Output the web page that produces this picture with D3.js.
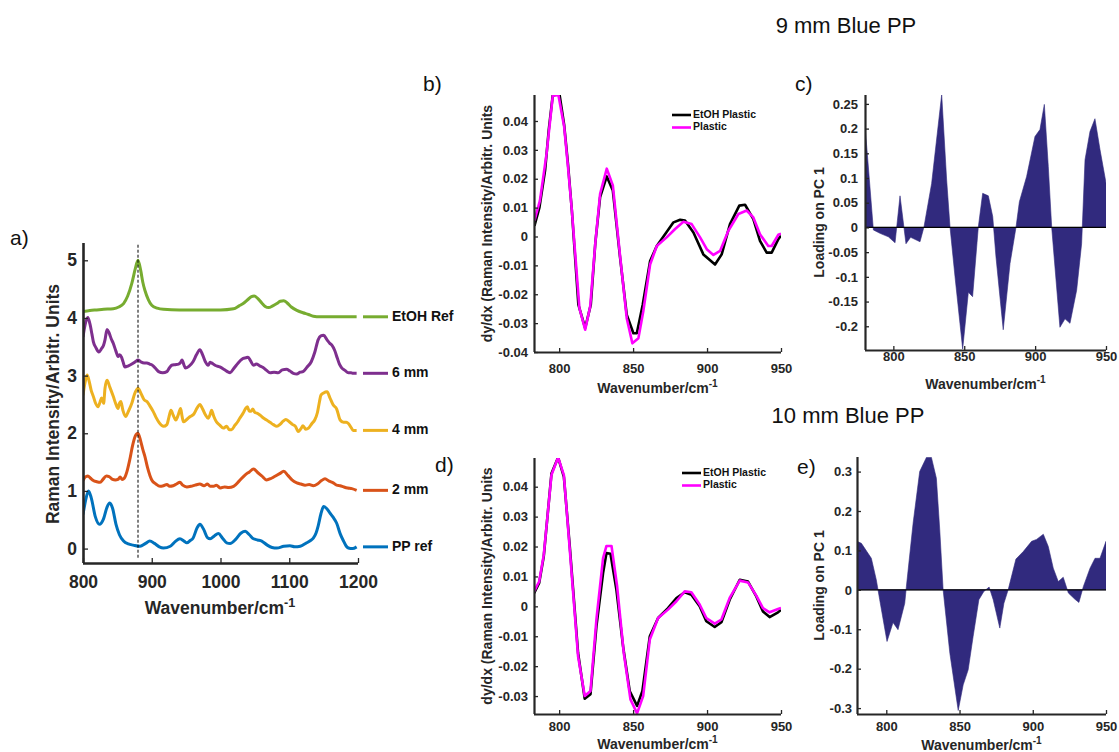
<!DOCTYPE html>
<html>
<head>
<meta charset="utf-8">
<script src="https://cdn.jsdelivr.net/npm/d3@7"></script>
<style>
  body { margin: 0; background: #fff; }
  svg { display: block; }
  text { font-family: "Liberation Sans", Arial, sans-serif; }
</style>
</head>
<body>
<svg id="fig" width="1119" height="752"></svg>
<script>
// ---------- Panel a: stacked Raman spectra, [wavenumber, intensity] ----------
const ppRef = [[800,0.59],[804,0.85],[808,1.00],[812,0.88],[818,0.55],[824,0.42],[830,0.52],[835,0.72],[839,0.79],[843,0.70],[848,0.42],[853,0.24],[859,0.13],[866,0.08],[873,0.06],[883,0.04],[891,0.09],[897,0.13],[904,0.09],[911,0.03],[917,0.01],[927,0.04],[934,0.12],[941,0.17],[947,0.13],[951,0.10],[956,0.14],[960,0.18],[966,0.36],[970,0.42],[976,0.32],[981,0.19],[985,0.17],[991,0.22],[997,0.26],[1003,0.18],[1009,0.10],[1014,0.09],[1022,0.16],[1030,0.27],[1036,0.30],[1042,0.24],[1048,0.17],[1054,0.15],[1060,0.13],[1068,0.06],[1075,0.02],[1082,0.01],[1092,0.04],[1101,0.05],[1108,0.03],[1116,0.04],[1124,0.09],[1131,0.14],[1135,0.18],[1139,0.27],[1142,0.39],[1146,0.60],[1150,0.73],[1154,0.70],[1159,0.62],[1164,0.54],[1169,0.44],[1174,0.26],[1179,0.13],[1183,0.04],[1186,0.01],[1192,0.00],[1198,0.03]];

const mm2 = [[800,1.18],[803,1.24],[807,1.26],[811,1.22],[815,1.18],[820,1.16],[825,1.15],[829,1.20],[834,1.26],[838,1.25],[843,1.20],[847,1.19],[851,1.20],[854,1.24],[857,1.20],[860,1.22],[864,1.34],[868,1.54],[872,1.78],[876,1.95],[880,2.00],[884,1.86],[887,1.72],[890,1.60],[894,1.40],[900,1.19],[906,1.12],[912,1.08],[917,1.09],[922,1.11],[926,1.08],[931,1.09],[936,1.12],[941,1.15],[945,1.10],[951,1.07],[957,1.08],[963,1.10],[970,1.12],[976,1.09],[981,1.12],[985,1.08],[990,1.08],[994,1.10],[1000,1.05],[1006,1.07],[1012,1.06],[1019,1.08],[1027,1.17],[1036,1.28],[1042,1.33],[1048,1.38],[1054,1.32],[1060,1.26],[1067,1.19],[1074,1.22],[1080,1.26],[1086,1.30],[1092,1.34],[1098,1.27],[1104,1.19],[1111,1.14],[1117,1.12],[1123,1.10],[1129,1.11],[1135,1.09],[1141,1.12],[1147,1.18],[1152,1.21],[1158,1.17],[1164,1.14],[1169,1.10],[1174,1.09],[1179,1.07],[1185,1.05],[1191,1.04],[1198,1.01]];

const mm4 = [[800,2.66],[803,2.88],[806,3.01],[809,2.90],[812,2.74],[815,2.64],[818,2.53],[822,2.46],[825,2.55],[827,2.61],[830,2.52],[832,2.78],[835,2.92],[839,2.80],[844,2.64],[848,2.50],[851,2.43],[853,2.52],[855,2.55],[858,2.40],[862,2.29],[866,2.38],[871,2.52],[875,2.68],[880,2.78],[884,2.70],[889,2.58],[893,2.55],[897,2.48],[902,2.38],[906,2.28],[911,2.18],[917,2.12],[922,2.15],[925,2.28],[928,2.40],[931,2.32],[935,2.23],[938,2.30],[942,2.43],[944,2.30],[946,2.20],[951,2.24],[956,2.29],[961,2.33],[966,2.44],[970,2.50],[974,2.42],[978,2.32],[982,2.26],[985,2.33],[987,2.40],[990,2.30],[994,2.20],[999,2.14],[1004,2.09],[1009,2.12],[1013,2.06],[1016,2.06],[1021,2.14],[1025,2.20],[1028,2.26],[1033,2.35],[1036,2.42],[1039,2.46],[1042,2.38],[1044,2.38],[1047,2.42],[1050,2.36],[1053,2.35],[1058,2.31],[1063,2.26],[1067,2.23],[1072,2.19],[1077,2.15],[1082,2.12],[1087,2.16],[1091,2.21],[1095,2.24],[1100,2.20],[1105,2.15],[1109,2.12],[1113,2.03],[1117,2.08],[1120,2.13],[1124,2.07],[1128,2.09],[1133,2.17],[1137,2.23],[1141,2.36],[1144,2.55],[1146,2.66],[1150,2.70],[1155,2.72],[1159,2.62],[1164,2.49],[1169,2.42],[1174,2.23],[1179,2.19],[1183,2.19],[1186,2.17],[1190,2.10],[1193,2.05],[1198,2.05]];

const mm6 = [[800,3.67],[803,3.88],[807,4.01],[810,3.90],[813,3.72],[815,3.59],[819,3.48],[823,3.41],[827,3.47],[830,3.53],[832,3.62],[835,3.80],[838,3.74],[841,3.64],[844,3.56],[848,3.42],[851,3.33],[853,3.36],[856,3.32],[858,3.25],[861,3.15],[866,3.17],[871,3.20],[876,3.24],[880,3.27],[884,3.24],[889,3.22],[893,3.22],[897,3.20],[902,3.17],[906,3.12],[910,3.07],[916,3.05],[922,3.07],[926,3.14],[929,3.18],[934,3.19],[939,3.20],[942,3.23],[944,3.27],[947,3.18],[949,3.13],[954,3.16],[960,3.24],[965,3.36],[970,3.45],[974,3.36],[978,3.24],[982,3.18],[985,3.23],[987,3.22],[992,3.18],[999,3.15],[1006,3.10],[1010,3.07],[1014,3.05],[1019,3.12],[1023,3.18],[1028,3.25],[1033,3.30],[1037,3.31],[1040,3.32],[1044,3.25],[1048,3.18],[1052,3.20],[1057,3.17],[1062,3.14],[1067,3.09],[1072,3.05],[1078,3.06],[1084,3.05],[1090,3.10],[1096,3.11],[1101,3.08],[1106,3.04],[1111,3.03],[1116,3.06],[1120,3.07],[1126,3.15],[1132,3.24],[1137,3.40],[1142,3.62],[1146,3.69],[1150,3.70],[1155,3.62],[1159,3.56],[1162,3.53],[1166,3.44],[1170,3.30],[1173,3.20],[1176,3.14],[1181,3.09],[1186,3.05],[1190,3.05],[1193,3.04],[1198,3.04]];

const etohRef = [[800,4.11],[810,4.13],[820,4.14],[830,4.15],[844,4.16],[852,4.19],[859,4.25],[865,4.38],[871,4.60],[876,4.85],[880,5.00],[884,4.82],[887,4.62],[890,4.48],[895,4.32],[900,4.22],[908,4.17],[917,4.15],[940,4.14],[970,4.14],[1000,4.14],[1019,4.16],[1027,4.21],[1033,4.25],[1040,4.32],[1045,4.37],[1049,4.38],[1054,4.34],[1060,4.26],[1065,4.20],[1070,4.18],[1076,4.21],[1082,4.25],[1087,4.29],[1092,4.30],[1097,4.26],[1103,4.19],[1111,4.13],[1120,4.09],[1128,4.06],[1135,4.03],[1145,4.02],[1160,4.02],[1180,4.02],[1198,4.02]];

// series order, labels and MATLAB default colours (bottom to top)
const spectraNames  = ["PP ref", "2 mm", "4 mm", "6 mm", "EtOH Ref"];
const spectraData   = [ppRef, mm2, mm4, mm6, etohRef];
const spectraColors = ["#0072BD", "#D95319", "#EDB120", "#7E2F8E", "#77AC30"];
const ethanolBand = 880;   // C-C-O stretch marker

const aXTicks = [800, 900, 1000, 1100, 1200];
const aYTicks = [0, 1, 2, 3, 4, 5];

// ---------- Panels b / d: first-derivative spectra ----------
const bEtoh = [[783.3,0.0037],[786.7,0.0101],[790.5,0.0229],[793,0.037],[795.7,0.0490],[800.2,0.0494],[803.4,0.0386],[806,0.025],[808.6,0.0090],[813,-0.0236],[817.6,-0.0317],[821.4,-0.0236],[824.5,-0.002],[827.7,0.0136],[832.2,0.0208],[836.3,0.0159],[841.2,-0.0073],[845.7,-0.0271],[850.2,-0.0335],[852.5,-0.0335],[856.5,-0.0236],[861.5,-0.0085],[866,-0.0033],[871.6,0.0008],[877.3,0.0049],[881.8,0.0058],[885.1,0.0055],[890.8,0.0014],[897.5,-0.0062],[905.4,-0.0097],[909.9,-0.0062],[915.5,0.0043],[921.8,0.0107],[925.7,0.0110],[931.3,0.0060],[935.8,-0.0015],[940.3,-0.0056],[943.7,-0.0056],[948.2,-0.0009],[950,0.0003]];
const bPlastic = [[783.3,0.0055],[787,0.0124],[791.5,0.0287],[795.7,0.0487],[799.5,0.0490],[803.4,0.0380],[806,0.024],[808.6,0.0090],[813.7,-0.0248],[817.6,-0.0323],[821,-0.0242],[824.5,-0.002],[827.7,0.0148],[832.2,0.0235],[836.3,0.0177],[841.2,-0.0067],[845.7,-0.0283],[849.5,-0.0370],[853.6,-0.0352],[856.9,-0.0259],[861.5,-0.0097],[866,-0.0033],[872.7,-0.0003],[878.4,0.0026],[884,0.0051],[889.6,0.0043],[895.3,-0.0003],[899.8,-0.0044],[904.3,-0.0064],[908.8,-0.0050],[914.4,0.0020],[921.2,0.0078],[926.8,0.0090],[931.3,0.0066],[935.8,0.0008],[941.4,-0.0033],[943.7,-0.0033],[948.2,0.0006],[950,0.0010]];

const dEtoh = [[783.1,0.0044],[786.5,0.0078],[789.6,0.0167],[794.8,0.0444],[799.3,0.0498],[803.2,0.0433],[807.2,0.0200],[812.8,-0.0156],[817.3,-0.0309],[821.2,-0.0294],[825.2,-0.0067],[829.7,0.0111],[832,0.0178],[834.7,0.0176],[838.7,0.0056],[843.2,-0.0133],[847.7,-0.0283],[852.7,-0.0333],[856.3,-0.0283],[861.3,-0.0100],[866.9,-0.0039],[873.6,-0.0006],[879.3,0.0028],[884.9,0.0047],[889.4,0.0039],[895,0.0000],[899.5,-0.0050],[905.2,-0.0069],[909.7,-0.0053],[915.3,0.0022],[922.1,0.0089],[927.7,0.0083],[933.3,0.0033],[937.8,-0.0017],[942.3,-0.0036],[948,-0.0020],[950,-0.0012]];
const dPlastic = [[783.1,0.0050],[786.5,0.0083],[789.6,0.0172],[794.8,0.0439],[799.3,0.0498],[803.2,0.0439],[807.2,0.0189],[812.8,-0.0167],[817.3,-0.0300],[821.2,-0.0283],[825.2,-0.0044],[829.7,0.0161],[832,0.0202],[835.4,0.0202],[839.2,0.0067],[843.7,-0.0156],[848.2,-0.0311],[852.7,-0.0358],[856.8,-0.0300],[861.3,-0.0111],[866.9,-0.0039],[873.6,-0.0011],[879.3,0.0017],[884.9,0.0050],[889.4,0.0047],[895,0.0006],[899.5,-0.0039],[905.2,-0.0058],[909.7,-0.0044],[915.3,0.0028],[922.1,0.0086],[927.7,0.0080],[933.3,0.0036],[937.8,-0.0006],[942.3,-0.0020],[948,-0.0009],[950,-0.0005]];

const derivNames  = ["EtOH Plastic", "Plastic"];
const derivColors = ["#000000", "#FF00FF"];

const bdXTicks = [800, 850, 900, 950];
const bYTicks = [-0.04, -0.03, -0.02, -0.01, 0, 0.01, 0.02, 0.03, 0.04];
const dYTicks = [-0.03, -0.02, -0.01, 0, 0.01, 0.02, 0.03, 0.04];

// ---------- Panels c / e: PC1 loadings ----------
const cLoad = [[780,0.205],[781.6,0.150],[785.9,-0.005],[790.6,-0.012],[796.5,-0.019],[801.2,-0.031],[804.7,0.064],[808.9,-0.033],[812.2,-0.020],[818.8,-0.029],[821.6,0.001],[827,0.089],[834.1,0.269],[837.6,0.096],[840,0.000],[843.5,-0.100],[848.9,-0.246],[852.9,-0.131],[855.9,-0.140],[859.9,0.000],[863,0.069],[867,0.064],[870.1,0.022],[872.4,-0.060],[877.5,-0.207],[882.3,-0.073],[886.5,0.000],[888.9,0.052],[894,0.103],[899.9,0.184],[903.4,0.198],[906.5,0.249],[909.3,0.123],[911.7,0.000],[917.5,-0.202],[921.1,-0.185],[924.6,-0.194],[929.3,-0.127],[932.8,-0.033],[935.2,0.137],[938.7,0.194],[942.2,0.220],[945.8,0.157],[950,0.090]];

const eLoad = [[780,0.123],[783,0.118],[789.8,0.080],[793.2,0.025],[795.5,-0.025],[800.5,-0.131],[804.6,-0.083],[808,-0.101],[812.6,-0.034],[813.7,0.008],[818.3,0.169],[822.8,0.300],[827.4,0.336],[830.8,0.336],[834.2,0.283],[836.5,0.152],[838.8,0.000],[843.4,-0.161],[849.1,-0.306],[852.5,-0.241],[855.9,-0.203],[859.3,-0.118],[863.2,-0.025],[866.6,-0.004],[870.2,0.007],[873,-0.025],[877.5,-0.097],[880.3,-0.034],[883.2,0.000],[888.5,0.078],[893.5,0.097],[899.2,0.123],[902.6,0.128],[907.2,0.141],[910.6,0.110],[914,0.055],[917.4,0.021],[920.8,0.032],[924.3,-0.008],[928.8,-0.024],[931.5,-0.032],[934.5,0.008],[939.1,0.055],[942.5,0.080],[945.9,0.080],[950,0.123]];

const ceXTicks = [800, 850, 900, 950];
const cYTicks = [-0.2, -0.15, -0.1, -0.05, 0, 0.05, 0.1, 0.15, 0.2, 0.25];
const eYTicks = [-0.3, -0.2, -0.1, 0, 0.1, 0.2, 0.3];

// ---------- drawing ----------
const svg = d3.select("#fig");
const INK = "#262626";
const AREA_FILL = "#312a7e";
const numFmt = d => String(+d.toFixed(2));
let clipCount = 0;

function makePanel(o) {
  const x = d3.scaleLinear().domain(o.xDomain).range([o.left, o.right]);
  const y = d3.scaleLinear().domain(o.yDomain).range([o.bottom, o.top]);
  const g = svg.append("g");
  const id = "clip" + (clipCount++);
  g.append("clipPath").attr("id", id).append("rect")
    .attr("x", o.left).attr("y", o.top)
    .attr("width", o.right - o.left).attr("height", o.bottom - o.top);
  const plot = g.append("g").attr("clip-path", `url(#${id})`);
  return { x, y, g, plot, o };
}

function drawAxes(p, o) {
  const xa = d3.axisBottom(p.x).tickValues(o.xTicks).tickSize(-o.tick).tickSizeOuter(0)
    .tickPadding(o.xPad).tickFormat(o.xFmt || d3.format("d"));
  const ya = d3.axisLeft(p.y).tickValues(o.yTicks).tickSize(-o.tick).tickSizeOuter(0)
    .tickPadding(o.yPad).tickFormat(o.yFmt || numFmt);
  const gx = p.g.append("g").attr("transform", `translate(0,${o.bottom})`).call(xa);
  const gy = p.g.append("g").attr("transform", `translate(${o.left},0)`).call(ya);
  [gx, gy].forEach(a => {
    a.select(".domain").attr("stroke", INK).attr("stroke-width", o.axisW);
    a.selectAll(".tick line").attr("stroke", INK).attr("stroke-width", 1.3);
    a.selectAll(".tick text").attr("fill", INK).attr("font-size", o.font)
      .attr("font-weight", "bold").attr("font-family", '"Liberation Sans", Arial, sans-serif');
  });
  // y axis runs from the top of the box down to meet the x axis
  gy.select(".domain").attr("d", `M0.5,${o.top}V${o.bottom}`);
  gx.select(".domain").attr("d", `M${o.left},0.5H${o.right}`);
}

function xTitle(g, cx, y, size) {
  const t = g.append("text").attr("x", cx).attr("y", y).attr("text-anchor", "middle")
    .attr("font-weight", "bold").attr("font-size", size).attr("fill", INK);
  t.append("tspan").text("Wavenumber/cm");
  t.append("tspan").attr("dy", -size * 0.42).attr("font-size", size * 0.72).text("-1");
}

function yTitle(g, cx, cy, size, label) {
  g.append("text").attr("transform", `translate(${cx},${cy}) rotate(-90)`)
    .attr("text-anchor", "middle").attr("dominant-baseline", "middle")
    .attr("font-weight", "bold").attr("font-size", size).attr("fill", INK).text(label);
}

function panelTag(x, y, label) {
  svg.append("text").attr("x", x).attr("y", y).attr("font-size", 21).attr("fill", "#111").text(label);
}

function title(cx, y, label) {
  svg.append("text").attr("x", cx).attr("y", y).attr("text-anchor", "middle")
    .attr("font-size", 22).attr("fill", "#111").text(label);
}

// ----- panel a -----
{
  const o = { left: 83, right: 358, top: 243, bottom: 563, xDomain: [800, 1200], yDomain: [-0.25, 5.3],
              xTicks: aXTicks, yTicks: aYTicks, tick: 5, xPad: 13, yPad: 6, font: 17.5, axisW: 2.6,
              yFmt: d3.format("d") };
  const p = makePanel(o);
  const line = d3.line().x(d => p.x(d[0])).y(d => p.y(d[1])).curve(d3.curveMonotoneX);
  spectraData.forEach((s, i) => {
    p.plot.append("path").datum(s).attr("d", line).attr("fill", "none")
      .attr("stroke", spectraColors[i]).attr("stroke-width", 3).attr("stroke-linejoin", "round");
  });
  p.g.append("line").attr("x1", p.x(ethanolBand)).attr("x2", p.x(ethanolBand))
    .attr("y1", p.y(5.27)).attr("y2", p.y(-0.18))
    .attr("stroke", "#000").attr("stroke-width", 1).attr("stroke-dasharray", "3,2");
  drawAxes(p, o);
  // series keys sit at the level where each trace ends
  spectraData.forEach((s, i) => {
    const yy = p.y(s[s.length - 1][1]);
    p.g.append("line").attr("x1", 363).attr("x2", 388).attr("y1", yy).attr("y2", yy)
      .attr("stroke", spectraColors[i]).attr("stroke-width", 3);
    p.g.append("text").attr("x", 392).attr("y", yy).attr("dominant-baseline", "middle")
      .attr("font-size", 14).attr("font-weight", "bold").attr("fill", "#111").text(spectraNames[i]);
  });
  xTitle(p.g, 220, 614, 17.5);
  yTitle(p.g, 54, 404, 17.5, "Raman Intensity/Arbitr. Units");
  panelTag(10, 245, "a)");
}

function derivPanel(o, series, legendX, legendY, tag, tagXY, xTitleY, yTitleX) {
  const p = makePanel(o);
  const line = d3.line().x(d => p.x(d[0])).y(d => p.y(d[1]));
  series.forEach((s, i) => {
    p.plot.append("path").datum(s).attr("d", line).attr("fill", "none")
      .attr("stroke", derivColors[i]).attr("stroke-width", 2.6).attr("stroke-linejoin", "round");
  });
  drawAxes(p, o);
  derivNames.forEach((n, i) => {
    const yy = legendY + i * 12.5;
    p.g.append("line").attr("x1", legendX).attr("x2", legendX + 19).attr("y1", yy).attr("y2", yy)
      .attr("stroke", derivColors[i]).attr("stroke-width", 2.6);
    p.g.append("text").attr("x", legendX + 21).attr("y", yy).attr("dominant-baseline", "middle")
      .attr("font-size", 10.5).attr("font-weight", "bold").attr("fill", "#111").text(n);
  });
  xTitle(p.g, (o.left + o.right) / 2, xTitleY, 14);
  yTitle(p.g, yTitleX, (o.top + o.bottom) / 2, 14, "dy/dx (Raman Intensity/Arbitr. Units");
  panelTag(tagXY[0], tagXY[1], tag);
}

function loadPanel(o, data, tag, tagXY, xTitleY, yTitleX) {
  const p = makePanel(o);
  const area = d3.area().x(d => p.x(d[0])).y0(p.y(0)).y1(d => p.y(d[1]));
  p.plot.append("path").datum(data).attr("d", area).attr("fill", AREA_FILL)
    .attr("stroke", AREA_FILL).attr("stroke-width", 0.6);
  p.plot.append("line").attr("x1", o.left).attr("x2", o.right)
    .attr("y1", p.y(0)).attr("y2", p.y(0)).attr("stroke", "#000").attr("stroke-width", 1.2);
  drawAxes(p, o);
  xTitle(p.g, (o.left + o.right) / 2, xTitleY, 14);
  yTitle(p.g, yTitleX, (o.top + o.bottom) / 2, 14, "Loading on PC 1");
  panelTag(tagXY[0], tagXY[1], tag);
}

title(846, 33, "9 mm Blue PP");
title(848, 423, "10 mm Blue PP");

derivPanel({ left: 534, right: 781, top: 95, bottom: 352, xDomain: [783, 950], yDomain: [-0.04, 0.049],
             xTicks: bdXTicks, yTicks: bYTicks, tick: 4, xPad: 12, yPad: 6, font: 13, axisW: 2.2 },
           [bEtoh, bPlastic], 672, 115, "b)", [423, 91], 393, 488);

loadPanel({ left: 865, right: 1106, top: 95, bottom: 350, xDomain: [780, 950], yDomain: [-0.248, 0.268],
            xTicks: ceXTicks, yTicks: cYTicks, tick: 4, xPad: 2, yPad: 7, font: 13, axisW: 2.2 },
          cLoad, "c)", [795, 91], 389, 820);

derivPanel({ left: 534, right: 781, top: 458, bottom: 714, xDomain: [783, 950], yDomain: [-0.036, 0.0496],
             xTicks: bdXTicks, yTicks: dYTicks, tick: 4, xPad: 8, yPad: 6, font: 13, axisW: 2.2 },
           [dEtoh, dPlastic], 682, 473, "d)", [435, 472], 749, 488);

loadPanel({ left: 857, right: 1106, top: 457, bottom: 714, xDomain: [780, 950], yDomain: [-0.315, 0.337],
            xTicks: ceXTicks, yTicks: eYTicks, tick: 4, xPad: 8, yPad: 5, font: 13, axisW: 2.2 },
          eLoad, "e)", [797, 474], 750, 820);
</script>
</body>
</html>
